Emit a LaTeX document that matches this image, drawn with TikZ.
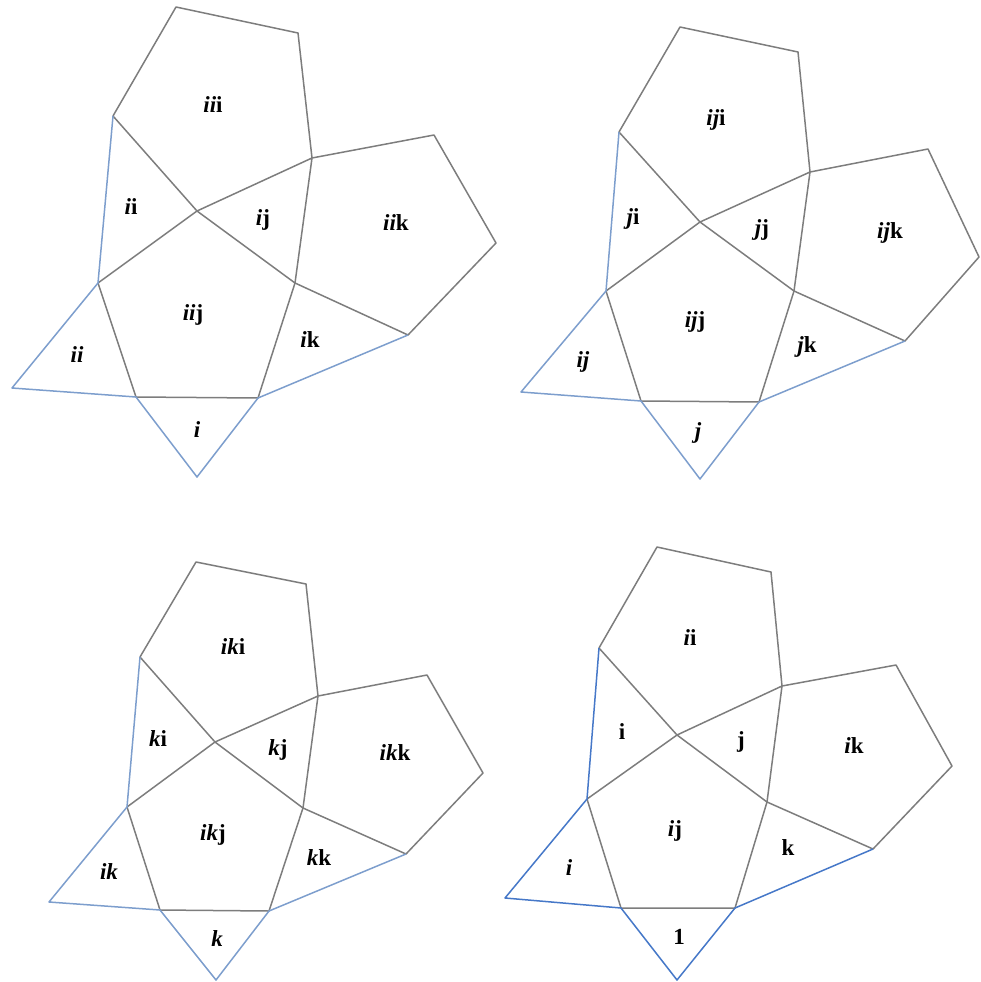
\documentclass[tikz,border=0pt]{standalone}
\usepackage{fontspec}
\setmainfont{Liberation Serif}
\tikzset{
  gedge/.style={draw={rgb,255:red,125;green,125;blue,125}, line width=1.5pt, line join=round},
  bedge/.style={draw={rgb,255:red,125;green,158;blue,205}, line width=1.5pt, line join=round},
  dedge/.style={draw={rgb,255:red,70;green,120;blue,200}, line width=1.5pt, line join=round},
  lab/.style={font=\fontsize{23}{26}\selectfont\bfseries, inner sep=0pt}
}
\newcommand{\mi}[1]{\textit{#1}}
\begin{document}
\begin{tikzpicture}[x=1pt,y=-1pt]
\useasboundingbox (0,0) rectangle (980,982);
% ---------------- Panel 1 ----------------
\coordinate (a1) at (176,7);   \coordinate (a2) at (298,33);
\coordinate (aA) at (312,158); \coordinate (aB) at (113,116);
\coordinate (aC) at (197,211); \coordinate (aR1) at (434,135);
\coordinate (aR2) at (496,243);\coordinate (aP) at (408,335);
\coordinate (aD) at (295,283); \coordinate (aE) at (98,283);
\coordinate (aF) at (136,397); \coordinate (aG) at (258,398);
\coordinate (aH) at (12,388);  \coordinate (aI) at (197,477);
\draw[gedge] (aB) -- (a1) -- (a2) -- (aA) -- (aR1) -- (aR2) -- (aP) -- (aD);
\draw[gedge] (aB) -- (aC) -- (aD);
\draw[gedge] (aE) -- (aC) -- (aA) -- (aD) -- (aG) -- (aF) -- (aE);
\draw[bedge] (aB) -- (aE) -- (aH) -- (aF) -- (aI) -- (aG) -- (aP);
\node[lab] (t1a) at (213,105) {\mi{ii}i};
\node[lab] (t1b) at (131,207) {\mi{i}i};
\node[lab] (t1c) at (263,220) {\mi{i}j};
\node[lab] (t1d) at (396,223) {\mi{ii}k};
\node[lab] (t1e) at (193,315) {\mi{ii}j};
\node[lab] (t1f) at (77,355)  {\mi{ii}};
\node[lab] (t1g) at (310,340) {\mi{i}k};
\node[lab] (t1h) at (197,430) {\mi{i}};
% ---------------- Panel 2 ----------------
\coordinate (b1) at (680,27);  \coordinate (b2) at (798,52);
\coordinate (bA) at (810,172); \coordinate (bB) at (619,132);
\coordinate (bC) at (700,222); \coordinate (bR1) at (928,149);
\coordinate (bR2) at (979,257);\coordinate (bP) at (905,341);
\coordinate (bD) at (794,291); \coordinate (bE) at (606,291);
\coordinate (bF) at (641,401); \coordinate (bG) at (759,402);
\coordinate (bH) at (521,392); \coordinate (bI) at (700,479);
\draw[gedge] (bB) -- (b1) -- (b2) -- (bA) -- (bR1) -- (bR2) -- (bP) -- (bD);
\draw[gedge] (bB) -- (bC) -- (bD);
\draw[gedge] (bE) -- (bC) -- (bA) -- (bD) -- (bG) -- (bF) -- (bE);
\draw[bedge] (bB) -- (bE) -- (bH) -- (bF) -- (bI) -- (bG) -- (bP);
\node[lab] (t2a) at (716,120) {\mi{ij}i};
\node[lab] (t2b) at (633,219) {\mi{j}i};
\node[lab] (t2c) at (762,230) {\mi{j}j};
\node[lab] (t2d) at (890,233) {\mi{ij}k};
\node[lab] (t2e) at (695,322) {\mi{ij}j};
\node[lab] (t2f) at (583,362) {\mi{ij}};
\node[lab] (t2g) at (807,347) {\mi{j}k};
\node[lab] (t2h) at (698,433) {\mi{j}};
% ---------------- Panel 3 ----------------
\coordinate (c1) at (196,562); \coordinate (c2) at (306,584);
\coordinate (cA) at (318,696); \coordinate (cB) at (140,657);
\coordinate (cC) at (215,742); \coordinate (cR1) at (427,675);
\coordinate (cR2) at (483,773);\coordinate (cP) at (406,854);
\coordinate (cD) at (303,808); \coordinate (cE) at (127,807);
\coordinate (cF) at (160,910); \coordinate (cG) at (269,911);
\coordinate (cH) at (49,902);  \coordinate (cI) at (216,980);
\draw[gedge] (cB) -- (c1) -- (c2) -- (cA) -- (cR1) -- (cR2) -- (cP) -- (cD);
\draw[gedge] (cB) -- (cC) -- (cD);
\draw[gedge] (cE) -- (cC) -- (cA) -- (cD) -- (cG) -- (cF) -- (cE);
\draw[bedge] (cB) -- (cE) -- (cH) -- (cF) -- (cI) -- (cG) -- (cP);
\node[lab] (t3a) at (233,647) {\mi{ik}i};
\node[lab] (t3b) at (158,739) {\mi{k}i};
\node[lab] (t3c) at (278,750) {\mi{k}j};
\node[lab] (t3d) at (395,753) {\mi{ik}k};
\node[lab] (t3e) at (213,835) {\mi{ik}j};
\node[lab] (t3f) at (109,872) {\mi{ik}};
\node[lab] (t3g) at (319,858) {\mi{k}k};
\node[lab] (t3h) at (217,939) {\mi{k}};
% ---------------- Panel 4 ----------------
\coordinate (d1) at (657,547); \coordinate (d2) at (771,572);
\coordinate (dA) at (782,686); \coordinate (dB) at (599,648);
\coordinate (dC) at (677,735); \coordinate (dR1) at (896,665);
\coordinate (dR2) at (952,766);\coordinate (dP) at (873,849);
\coordinate (dD) at (767,802); \coordinate (dE) at (587,799);
\coordinate (dF) at (621,908); \coordinate (dG) at (735,908);
\coordinate (dH) at (505,898); \coordinate (dI) at (677,980);
\draw[gedge] (dB) -- (d1) -- (d2) -- (dA) -- (dR1) -- (dR2) -- (dP) -- (dD);
\draw[gedge] (dB) -- (dC) -- (dD);
\draw[gedge] (dE) -- (dC) -- (dA) -- (dD) -- (dG) -- (dF) -- (dE);
\draw[dedge] (dB) -- (dE) -- (dH) -- (dF) -- (dI) -- (dG) -- (dP);
\node[lab] (t4a) at (690,638) {\mi{i}i};
\node[lab] (t4b) at (622,732) {i};
\node[lab] (t4c) at (741,742) {j};
\node[lab] (t4d) at (854,746) {\mi{i}k};
\node[lab] (t4e) at (675,831) {\mi{i}j};
\node[lab] (t4f) at (569,868) {\mi{i}};
\node[lab] (t4g) at (788,848) {k};
\node[lab] (t4h) at (679,937) {1};
\end{tikzpicture}
\end{document}
